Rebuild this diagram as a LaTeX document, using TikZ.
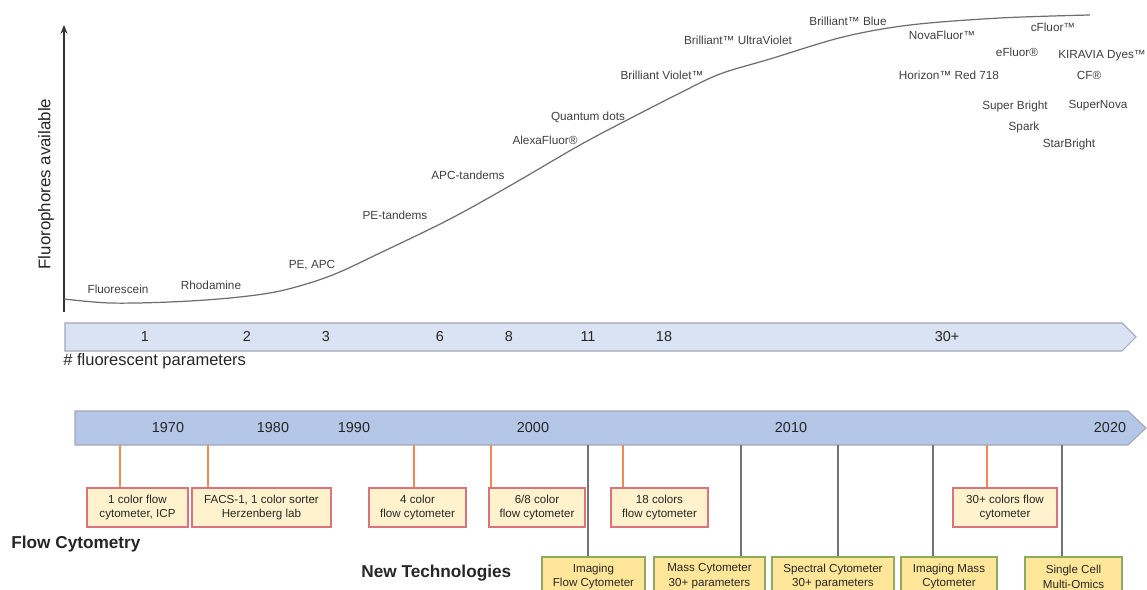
\documentclass[tikz,border=0pt]{standalone}
\usepackage{fontspec}
\setmainfont{Liberation Sans}
\usetikzlibrary{arrows.meta}

\definecolor{parfill}{HTML}{DAE3F3}
\definecolor{yearfill}{HTML}{B4C7E7}
\definecolor{bandline}{HTML}{A3A6B4}
\definecolor{stemorange}{HTML}{EC8A50}
\definecolor{fcfill}{HTML}{FFF2CC}
\definecolor{fcline}{HTML}{DB737C}
\definecolor{ntfill}{HTML}{FFE699}
\definecolor{ntline}{HTML}{8FAA60}
\definecolor{curvegray}{HTML}{6E6E6E}
\definecolor{labelgray}{HTML}{3F3F3F}

\begin{document}
\begin{tikzpicture}[x=0.02cm, y=-0.02cm,
    % dye names along the curve
    dye/.style={font=\fontsize{6.7pt}{8pt}\selectfont, text=labelgray, inner sep=0pt},
    % numbers and years on the two bands
    tick/.style={font=\fontsize{8.2pt}{10pt}\selectfont, text=black!85, inner sep=0pt, anchor=base},
    % flow cytometry milestones
    fcbox/.style={
        draw=fcline,
        fill=fcfill,
        line width=0.6pt,
        minimum height=0.78cm,
        inner sep=0pt,
        align=center,
        text=black!85,
        font=\fontsize{6.6pt}{8.5pt}\selectfont
    },
    % new technologies
    ntbox/.style={fcbox, draw=ntline, fill=ntfill},
    stem/.style={stemorange, line width=0.7pt},
    newstem/.style={black!55, line width=0.6pt},
    heading/.style={font=\bfseries\fontsize{9.8pt}{12pt}\selectfont, text=black!85, inner sep=0pt}
]
    \useasboundingbox (0,0) rectangle (1147,590);

    % ================== Fluorophore curve ==================
    \coordinate (axis_bot) at (64,312);
    \coordinate (axis_top) at (64,25);
    \draw[-{Stealth[length=5pt,width=4pt]}, line width=0.9pt, black!80] (axis_bot) -- (axis_top);
    \node[rotate=90, font=\fontsize{9.6pt}{12pt}\selectfont, text=black!85, inner sep=0pt] (axis_label) at (46,184) {Fluorophores available};

    \draw[curvegray, line width=0.7pt] plot[smooth, tension=0.55] coordinates {
        (64,299) (110,303) (170,302) (230,298) (280,291) (330,276) (380,253)
        (450,219) (513,184) (580,145) (633,117) (680,93) (720,74) (770,59)
        (843,37) (910,25) (1000,18) (1090,15)};

    \node[dye] (dye_fluorescein) at (118,289) {Fluorescein};
    \node[dye] (dye_rhodamine)   at (211,285) {Rhodamine};
    \node[dye] (dye_pe_apc)      at (312,265) {PE, APC};
    \node[dye] (dye_pe_tandem)   at (395,215) {PE-tandems};
    \node[dye] (dye_apc_tandem)  at (468,175) {APC-tandems};
    \node[dye] (dye_alexa)       at (545,140) {AlexaFluor®};
    \node[dye] (dye_qdot)        at (588,117) {Quantum dots};
    \node[dye] (dye_bv)          at (662,75)  {Brilliant Violet™};
    \node[dye] (dye_buv)         at (738,40)  {Brilliant™ UltraViolet};
    \node[dye] (dye_bb)          at (848,21)  {Brilliant™ Blue};
    \node[dye] (dye_nova)        at (942,35)  {NovaFluor™};
    \node[dye] (dye_cfluor)      at (1053,27) {cFluor™};
    \node[dye] (dye_efluor)      at (1017,52) {eFluor®};
    \node[dye] (dye_kiravia)     at (1102,56) {KIRAVIA Dyes™};
    \node[dye] (dye_horizon)     at (949,75)  {Horizon™ Red 718};
    \node[dye] (dye_cf)          at (1089,75) {CF®};
    \node[dye] (dye_superbright) at (1015,106) {Super Bright};
    \node[dye] (dye_supernova)   at (1098,106) {SuperNova};
    \node[dye] (dye_spark)       at (1024,127) {Spark};
    \node[dye] (dye_starbright)  at (1069,144) {StarBright};

    % ================== Parameter band ==================
    \draw[fill=parfill, draw=bandline, line width=0.6pt]
        (65,323) -- (1122,323) -- (1136,337) -- (1122,351) -- (65,351) -- cycle;
    \foreach \x/\n [count=\i] in {145/1, 247/2, 326/3, 440/6, 509/8, 588/11, 664/18, 947/30+}
        \node[tick] (par_\i) at (\x,342) {\n};
    \node[anchor=west, font=\fontsize{9.4pt}{12pt}\selectfont, text=black!85, inner sep=0pt] (par_label) at (63,361) {\# fluorescent parameters};

    % ================== Year band ==================
    \draw[fill=yearfill, draw=bandline, line width=0.6pt]
        (75,411) -- (1128,411) -- (1146,428) -- (1128,445) -- (75,445) -- cycle;
    \foreach \x/\y in {168/1970, 273/1980, 354/1990, 533/2000, 791/2010, 1110/2020}
        \node[tick] (yr_\y) at (\x,433) {\y};

    % Flow cytometry boxes
    \node[fcbox, minimum width=2.02cm] (fc_icp)   at (137.5,507.5) {1 color flow\\cytometer, ICP};
    \node[fcbox, minimum width=2.78cm] (fc_facs)  at (261.5,507.5) {FACS-1, 1 color sorter\\Herzenberg lab};
    \node[fcbox, minimum width=1.94cm] (fc_four)  at (417.5,507.5) {4 color\\flow cytometer};
    \node[fcbox, minimum width=1.92cm] (fc_eight) at (537,507.5)   {6/8 color\\flow cytometer};
    \node[fcbox, minimum width=1.94cm] (fc_18)    at (659.5,507.5) {18 colors\\flow cytometer};
    \node[fcbox, minimum width=2.08cm] (fc_30)    at (1005,507.5)  {30+ colors flow\\cytometer};

    % New technology boxes
    \node[ntbox, minimum width=2.06cm] (nt_imaging)  at (593.5,576.5) {Imaging\\Flow Cytometer};
    \node[ntbox, minimum width=2.22cm] (nt_mass)     at (709.5,576.5) {Mass Cytometer\\30+ parameters};
    \node[ntbox, minimum width=2.44cm] (nt_spectral) at (833,576.5)   {Spectral Cytometer\\30+ parameters};
    \node[ntbox, minimum width=1.92cm] (nt_imc)      at (949,576.5)   {Imaging Mass\\Cytometer};
    \node[ntbox, minimum width=1.94cm] (nt_omics)    at (1073.5,576.5) {Single Cell\\Multi-Omics};

    % stems hanging from the year band
    \coordinate (s_icp)   at (120,445);
    \coordinate (s_facs)  at (208,445);
    \coordinate (s_four)  at (414,445);
    \coordinate (s_eight) at (491,445);
    \coordinate (s_18)    at (623,445);
    \coordinate (s_30)    at (987,445);
    \draw[stem] (s_icp)   -- (s_icp |- fc_icp.north);
    \draw[stem] (s_facs)  -- (s_facs |- fc_facs.north);
    \draw[stem] (s_four)  -- (s_four |- fc_four.north);
    \draw[stem] (s_eight) -- (s_eight |- fc_eight.north);
    \draw[stem] (s_18)    -- (s_18 |- fc_18.north);
    \draw[stem] (s_30)    -- (s_30 |- fc_30.north);

    \coordinate (s_imaging)  at (588,445);
    \coordinate (s_mass)     at (741,445);
    \coordinate (s_spectral) at (838,445);
    \coordinate (s_imc)      at (933,445);
    \coordinate (s_omics)    at (1062,445);
    \draw[newstem] (s_imaging)  -- (s_imaging |- nt_imaging.north);
    \draw[newstem] (s_mass)     -- (s_mass |- nt_mass.north);
    \draw[newstem] (s_spectral) -- (s_spectral |- nt_spectral.north);
    \draw[newstem] (s_imc)      -- (s_imc |- nt_imc.north);
    \draw[newstem] (s_omics)    -- (s_omics |- nt_omics.north);

    % row headings
    \node[heading, anchor=west] (flow_title) at (11,544) {Flow Cytometry};
    \node[heading, anchor=west] (new_title)  at (361,573) {New Technologies};

\end{tikzpicture}
\end{document}
